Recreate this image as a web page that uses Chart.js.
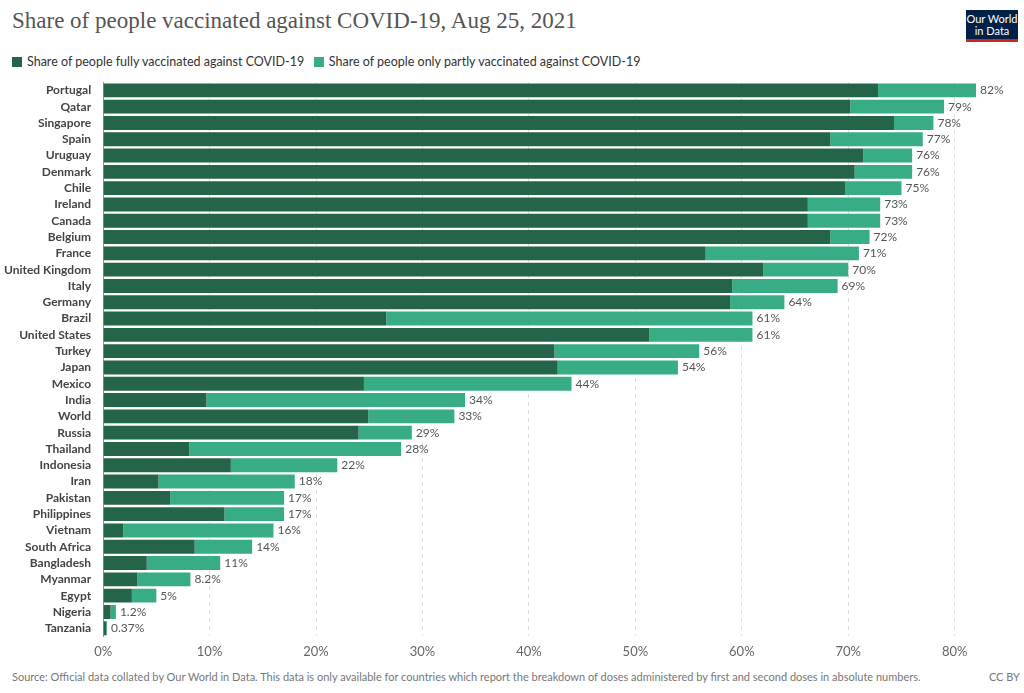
<!DOCTYPE html>
<html><head><meta charset="utf-8">
<script src="https://cdn.jsdelivr.net/npm/chart.js@4"></script>
<style>
body{margin:0;background:#fff;font-family:Lato,sans-serif;}
#wrap{position:relative;width:1024px;height:693px;}
h1{position:absolute;left:12px;top:8px;margin:0;font:normal 23px "Liberation Serif",serif;color:#555;}
#logo{position:absolute;left:966px;top:10px;width:52px;height:32px;background:#002147;color:#fff;font-size:11px;line-height:12px;text-align:center;padding-top:3px;box-sizing:border-box;border-bottom:3px solid #ce261e;}
#legend{position:absolute;left:12px;top:54px;font-size:12.5px;color:#333;}
#legend span.b{display:inline-block;width:10px;height:10px;margin-right:5px;vertical-align:-1px;}
#chartbox{position:absolute;left:0;top:71px;width:1024px;height:597px;}
#foot{position:absolute;left:12px;top:670px;font-size:11px;color:#777;width:1008px;}
#foot span{float:right;}
</style></head><body>
<div id="wrap">
<h1>Share of people vaccinated against COVID-19, Aug 25, 2021</h1>
<div id="logo">Our World<br>in Data</div>
<div id="legend"><span class="b" style="background:#24654a"></span>Share of people fully vaccinated against COVID-19 &nbsp;&nbsp;<span class="b" style="background:#38ad85"></span>Share of people only partly vaccinated against COVID-19</div>
<div id="chartbox"><canvas id="c"></canvas></div>
<div id="foot">Source: Official data collated by Our World in Data. This data is only available for countries which report the breakdown of doses administered by first and second doses in absolute numbers.<span>CC BY</span></div>
</div>
<script>
const countries = ['Portugal','Qatar','Singapore','Spain','Uruguay','Denmark','Chile','Ireland','Canada','Belgium','France','United Kingdom','Italy','Germany','Brazil','United States','Turkey','Japan','Mexico','India','World','Russia','Thailand','Indonesia','Iran','Pakistan','Philippines','Vietnam','South Africa','Bangladesh','Myanmar','Egypt','Nigeria','Tanzania'];
const fully = [72.8,70.2,74.3,68.3,71.4,70.6,69.7,66.2,66.2,68.3,56.6,62.0,59.1,58.9,26.6,51.3,42.4,42.7,24.5,9.7,24.9,24.0,8.1,12.0,5.2,6.3,11.4,1.9,8.6,4.1,3.2,2.7,0.7,0.3];
const totals = [82,79,78,77,76,76,75,73,73,72,71,70,69,64,61,61,56,54,44,34,33,29,28,22,18,17,17,16,14,11,8.2,5,1.2,0.37];
const totalLabels = ['82%','79%','78%','77%','76%','76%','75%','73%','73%','72%','71%','70%','69%','64%','61%','61%','56%','54%','44%','34%','33%','29%','28%','22%','18%','17%','17%','16%','14%','11%','8.2%','5%','1.2%','0.37%'];
const partly = totals.map((t,i)=>Math.max(0,+(t-fully[i]).toFixed(2)));
const xTicks = [0,10,20,30,40,50,60,70,80];

const totalsPlugin = {
  id:'totals',
  afterDatasetsDraw(chart){
    const {ctx, scales:{x,y}} = chart;
    ctx.save();
    ctx.font = '12px Lato'; ctx.fillStyle = '#555'; ctx.textBaseline = 'middle';
    totals.forEach((t,i)=>ctx.fillText(totalLabels[i], x.getPixelForValue(t)+4, y.getPixelForValue(i)));
    ctx.restore();
  }
};

new Chart(document.getElementById('c'),{
  type:'bar',
  data:{ labels:countries, datasets:[
    {label:'fully', data:fully, backgroundColor:'#24654a', barPercentage:0.85, categoryPercentage:1},
    {label:'partly', data:partly, backgroundColor:'#38ad85', barPercentage:0.85, categoryPercentage:1}
  ]},
  options:{ indexAxis:'y', responsive:true, maintainAspectRatio:false, animation:false,
    layout:{padding:{left:0,right:48,top:0,bottom:0}},
    plugins:{legend:{display:false}, tooltip:{enabled:false}},
    scales:{
      x:{stacked:true, min:0, max:82, afterBuildTicks:a=>{a.ticks=xTicks.map(v=>({value:v}));},
        grid:{color:'#ddd', drawTicks:false},
        border:{display:false, dash:[4,4]},
        ticks:{color:'#666', font:{size:13, family:'Lato'}, padding:8, callback:v=>v+'%'}},
      y:{stacked:true, grid:{display:false}, border:{color:'#999'},
        ticks:{color:'#444', font:{size:12, weight:'bold', family:'Lato'}, autoSkip:false, padding:4}}
    }
  },
  plugins:[totalsPlugin]
});
</script>
</body></html>
